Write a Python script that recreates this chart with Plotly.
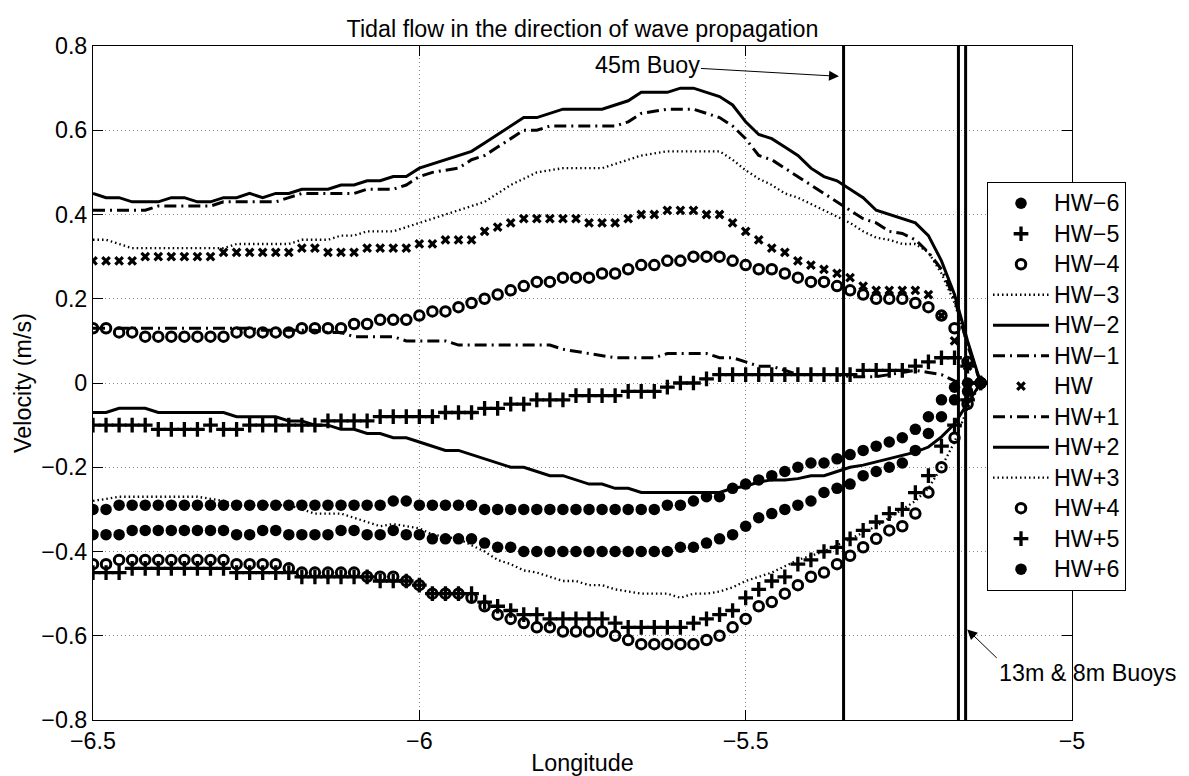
import plotly.graph_objects as go

# ---------------- data ----------------
lon = [-6.50, -6.48, -6.46, -6.44, -6.42, -6.40, -6.38, -6.36, -6.34, -6.32,
       -6.30, -6.28, -6.26, -6.24, -6.22, -6.20, -6.18, -6.16, -6.14, -6.12,
       -6.10, -6.08, -6.06, -6.04, -6.02, -6.00, -5.98, -5.96, -5.94, -5.92,
       -5.90, -5.88, -5.86, -5.84, -5.82, -5.80, -5.78, -5.76, -5.74, -5.72,
       -5.70, -5.68, -5.66, -5.64, -5.62, -5.60, -5.58, -5.56, -5.54, -5.52,
       -5.50, -5.48, -5.46, -5.44, -5.42, -5.40, -5.38, -5.36, -5.34, -5.32,
       -5.30, -5.28, -5.26, -5.24, -5.22, -5.20, -5.18, -5.16, -5.14]

hw_m6 = [-0.30, -0.30, -0.29, -0.29, -0.29, -0.29, -0.29, -0.29, -0.29, -0.29,
         -0.29, -0.29, -0.29, -0.29, -0.29, -0.29, -0.29, -0.29, -0.29, -0.29,
         -0.29, -0.29, -0.29, -0.28, -0.28, -0.29, -0.29, -0.29, -0.29, -0.29,
         -0.30, -0.30, -0.30, -0.30, -0.30, -0.30, -0.30, -0.30, -0.30, -0.30,
         -0.30, -0.30, -0.30, -0.30, -0.29, -0.29, -0.28, -0.27, -0.27, -0.25,
         -0.24, -0.23, -0.22, -0.21, -0.20, -0.19, -0.19, -0.18, -0.17, -0.16,
         -0.15, -0.14, -0.13, -0.11, -0.08, -0.04, -0.01, 0.00, 0.00]

hw_m5 = [-0.10, -0.10, -0.10, -0.10, -0.10, -0.11, -0.11, -0.11, -0.11, -0.10,
         -0.11, -0.11, -0.10, -0.10, -0.10, -0.10, -0.10, -0.10, -0.09, -0.09,
         -0.09, -0.09, -0.08, -0.08, -0.08, -0.08, -0.08, -0.07, -0.07, -0.07,
         -0.06, -0.06, -0.05, -0.05, -0.04, -0.04, -0.04, -0.03, -0.03, -0.03,
         -0.03, -0.02, -0.02, -0.02, -0.01, 0.00, 0.00, 0.01, 0.02, 0.02,
         0.02, 0.02, 0.02, 0.02, 0.02, 0.02, 0.02, 0.02, 0.02, 0.03,
         0.03, 0.03, 0.03, 0.04, 0.05, 0.06, 0.06, 0.04, 0.00]

hw_m4 = [0.13, 0.13, 0.12, 0.12, 0.11, 0.11, 0.11, 0.11, 0.11, 0.11,
         0.11, 0.12, 0.12, 0.12, 0.12, 0.12, 0.13, 0.13, 0.13, 0.13,
         0.14, 0.14, 0.15, 0.15, 0.15, 0.16, 0.17, 0.17, 0.18, 0.19,
         0.20, 0.21, 0.22, 0.23, 0.24, 0.24, 0.25, 0.25, 0.25, 0.26,
         0.26, 0.27, 0.28, 0.28, 0.29, 0.29, 0.30, 0.30, 0.30, 0.29,
         0.28, 0.27, 0.27, 0.26, 0.25, 0.24, 0.24, 0.23, 0.22, 0.21,
         0.20, 0.20, 0.20, 0.19, 0.18, 0.16, 0.13, 0.05, 0.00]

hw_m3 = [0.34, 0.34, 0.33, 0.32, 0.32, 0.32, 0.32, 0.32, 0.32, 0.32,
         0.32, 0.33, 0.33, 0.33, 0.33, 0.33, 0.34, 0.34, 0.34, 0.35,
         0.35, 0.36, 0.36, 0.36, 0.37, 0.38, 0.39, 0.40, 0.41, 0.42,
         0.43, 0.45, 0.47, 0.485, 0.50, 0.505, 0.51, 0.51, 0.51, 0.51,
         0.52, 0.53, 0.54, 0.545, 0.55, 0.55, 0.55, 0.55, 0.55, 0.53,
         0.505, 0.485, 0.47, 0.45, 0.44, 0.425, 0.41, 0.395, 0.38, 0.36,
         0.345, 0.34, 0.33, 0.33, 0.31, 0.26, 0.19, 0.09, 0.00]

hw_m2 = [0.45, 0.44, 0.44, 0.43, 0.43, 0.43, 0.44, 0.44, 0.43, 0.43,
         0.44, 0.44, 0.45, 0.44, 0.45, 0.45, 0.46, 0.46, 0.46, 0.47,
         0.47, 0.48, 0.48, 0.49, 0.49, 0.51, 0.52, 0.53, 0.54, 0.55,
         0.57, 0.59, 0.61, 0.63, 0.63, 0.64, 0.65, 0.65, 0.65, 0.65,
         0.66, 0.67, 0.69, 0.69, 0.69, 0.70, 0.70, 0.69, 0.68, 0.66,
         0.62, 0.59, 0.58, 0.56, 0.54, 0.51, 0.49, 0.48, 0.46, 0.44,
         0.41, 0.40, 0.39, 0.38, 0.35, 0.29, 0.21, 0.10, 0.00]

hw_m1 = [0.41, 0.41, 0.41, 0.41, 0.41, 0.42, 0.42, 0.42, 0.42, 0.42,
         0.43, 0.43, 0.43, 0.43, 0.43, 0.44, 0.45, 0.45, 0.45, 0.45,
         0.45, 0.46, 0.46, 0.46, 0.47, 0.49, 0.50, 0.505, 0.51, 0.53,
         0.54, 0.56, 0.58, 0.60, 0.60, 0.61, 0.61, 0.61, 0.61, 0.61,
         0.61, 0.62, 0.64, 0.645, 0.65, 0.65, 0.65, 0.64, 0.63, 0.61,
         0.58, 0.54, 0.53, 0.51, 0.49, 0.47, 0.45, 0.43, 0.41, 0.39,
         0.38, 0.36, 0.355, 0.34, 0.31, 0.27, 0.20, 0.09, 0.00]

hw_0 = [0.29, 0.29, 0.29, 0.29, 0.30, 0.30, 0.30, 0.30, 0.30, 0.30,
        0.31, 0.31, 0.31, 0.31, 0.31, 0.31, 0.32, 0.32, 0.31, 0.31,
        0.31, 0.32, 0.32, 0.32, 0.32, 0.33, 0.33, 0.34, 0.34, 0.34,
        0.36, 0.37, 0.38, 0.39, 0.39, 0.39, 0.39, 0.39, 0.38, 0.38,
        0.38, 0.39, 0.40, 0.40, 0.41, 0.41, 0.41, 0.40, 0.40, 0.38,
        0.36, 0.34, 0.32, 0.31, 0.29, 0.28, 0.27, 0.26, 0.25, 0.23,
        0.22, 0.22, 0.22, 0.22, 0.21, 0.16, 0.10, 0.04, 0.00]

hw_p1 = [0.13, 0.13, 0.13, 0.13, 0.13, 0.13, 0.13, 0.13, 0.13, 0.13,
         0.13, 0.13, 0.13, 0.125, 0.125, 0.125, 0.125, 0.125, 0.12, 0.12,
         0.11, 0.11, 0.11, 0.11, 0.10, 0.10, 0.10, 0.10, 0.09, 0.09,
         0.09, 0.09, 0.09, 0.09, 0.09, 0.09, 0.08, 0.075, 0.07, 0.065,
         0.06, 0.06, 0.06, 0.06, 0.07, 0.07, 0.07, 0.07, 0.06, 0.06,
         0.05, 0.04, 0.04, 0.03, 0.02, 0.02, 0.02, 0.02, 0.015, 0.015,
         0.015, 0.02, 0.025, 0.03, 0.025, 0.02, 0.005, 0.00, 0.00]

hw_p2 = [-0.07, -0.07, -0.06, -0.06, -0.06, -0.07, -0.07, -0.07, -0.07, -0.07,
         -0.07, -0.08, -0.08, -0.08, -0.08, -0.09, -0.09, -0.10, -0.10, -0.11,
         -0.11, -0.12, -0.12, -0.13, -0.13, -0.14, -0.15, -0.16, -0.16, -0.17,
         -0.18, -0.19, -0.20, -0.20, -0.21, -0.22, -0.22, -0.23, -0.24, -0.24,
         -0.25, -0.25, -0.26, -0.26, -0.26, -0.26, -0.26, -0.26, -0.26, -0.25,
         -0.245, -0.235, -0.23, -0.23, -0.227, -0.22, -0.22, -0.21, -0.20, -0.195,
         -0.187, -0.18, -0.172, -0.164, -0.152, -0.128, -0.097, -0.05, 0.00]

hw_p3 = [-0.28, -0.275, -0.27, -0.27, -0.27, -0.27, -0.27, -0.27, -0.27, -0.275,
         -0.28, -0.29, -0.29, -0.29, -0.29, -0.29, -0.30, -0.31, -0.31, -0.31,
         -0.32, -0.33, -0.34, -0.335, -0.34, -0.345, -0.36, -0.365, -0.37, -0.385,
         -0.40, -0.42, -0.43, -0.445, -0.45, -0.46, -0.47, -0.47, -0.48, -0.48,
         -0.49, -0.495, -0.50, -0.50, -0.50, -0.51, -0.50, -0.50, -0.495, -0.485,
         -0.47, -0.46, -0.45, -0.435, -0.42, -0.41, -0.40, -0.385, -0.37, -0.355,
         -0.34, -0.32, -0.30, -0.28, -0.25, -0.20, -0.14, -0.06, 0.00]

hw_p4 = [-0.43, -0.43, -0.42, -0.42, -0.42, -0.42, -0.42, -0.42, -0.42, -0.42,
         -0.42, -0.43, -0.43, -0.43, -0.43, -0.44, -0.45, -0.45, -0.45, -0.45,
         -0.45, -0.46, -0.46, -0.46, -0.47, -0.48, -0.50, -0.50, -0.50, -0.51,
         -0.53, -0.55, -0.56, -0.57, -0.58, -0.58, -0.59, -0.59, -0.59, -0.59,
         -0.60, -0.61, -0.62, -0.62, -0.62, -0.62, -0.62, -0.61, -0.60, -0.58,
         -0.56, -0.53, -0.52, -0.50, -0.48, -0.46, -0.45, -0.43, -0.41, -0.39,
         -0.37, -0.35, -0.34, -0.31, -0.26, -0.20, -0.13, -0.05, 0.00]

hw_p5 = [-0.45, -0.45, -0.45, -0.44, -0.44, -0.44, -0.44, -0.44, -0.44, -0.44,
         -0.44, -0.45, -0.45, -0.45, -0.45, -0.45, -0.46, -0.46, -0.46, -0.46,
         -0.46, -0.46, -0.47, -0.47, -0.47, -0.48, -0.50, -0.50, -0.50, -0.50,
         -0.52, -0.53, -0.54, -0.55, -0.55, -0.56, -0.56, -0.56, -0.56, -0.56,
         -0.57, -0.58, -0.58, -0.58, -0.58, -0.58, -0.57, -0.56, -0.55, -0.54,
         -0.51, -0.49, -0.47, -0.46, -0.43, -0.42, -0.40, -0.39, -0.37, -0.35,
         -0.33, -0.31, -0.30, -0.26, -0.22, -0.15, -0.10, -0.04, 0.00]

hw_p6 = [-0.36, -0.36, -0.36, -0.35, -0.35, -0.35, -0.35, -0.35, -0.35, -0.35,
         -0.35, -0.36, -0.36, -0.35, -0.35, -0.36, -0.36, -0.36, -0.36, -0.35,
         -0.35, -0.36, -0.36, -0.35, -0.36, -0.36, -0.37, -0.37, -0.37, -0.37,
         -0.38, -0.39, -0.39, -0.40, -0.40, -0.40, -0.40, -0.40, -0.40, -0.40,
         -0.40, -0.40, -0.40, -0.40, -0.40, -0.39, -0.39, -0.38, -0.37, -0.36,
         -0.34, -0.32, -0.31, -0.30, -0.29, -0.28, -0.26, -0.25, -0.24, -0.22,
         -0.21, -0.20, -0.19, -0.16, -0.12, -0.08, -0.04, -0.02, 0.00]

series_names = ["HW\u22126", "HW\u22125", "HW\u22124", "HW\u22123", "HW\u22122", "HW\u22121",
                "HW", "HW+1", "HW+2", "HW+3", "HW+4", "HW+5", "HW+6"]
series_values = [hw_m6, hw_m5, hw_m4, hw_m3, hw_m2, hw_m1, hw_0,
                 hw_p1, hw_p2, hw_p3, hw_p4, hw_p5, hw_p6]

buoy_lons = [-5.350, -5.174, -5.163]

x_ticks = [-6.5, -6, -5.5, -5]
y_ticks = [-0.8, -0.6, -0.4, -0.2, 0, 0.2, 0.4, 0.6, 0.8]

# ---------------- styles ----------------
K = "black"
dot_marker = dict(mode="markers", marker=dict(symbol="circle", size=11.5, color=K))
plus_marker = dict(mode="markers", marker=dict(symbol="cross-thin-open", size=10.5,
                                                color=K, line=dict(color=K, width=3.3)))
circ_marker = dict(mode="markers", marker=dict(symbol="circle-open", size=9.5,
                                                color=K, line=dict(color=K, width=3)))
x_marker = dict(mode="markers", marker=dict(symbol="x-thin-open", size=7.5,
                                             color=K, line=dict(color=K, width=3.2)))
dotted_line = dict(mode="lines", line=dict(color=K, width=2.3, dash="1.5px,3px"))
solid_line = dict(mode="lines", line=dict(color=K, width=3))
dashdot_line = dict(mode="lines", line=dict(color=K, width=3, dash="12px,5px,2px,5px"))

styles = [dot_marker, plus_marker, circ_marker, dotted_line, solid_line, dashdot_line,
          x_marker, dashdot_line, solid_line, dotted_line, circ_marker, plus_marker,
          dot_marker]

FONT = "Liberation Sans, Arial, Helvetica, sans-serif"
FS = 23.3
LEG_FS = 21.15   # sets legend row pitch (~30.5 px); labels themselves drawn at FS

fig = go.Figure()
for name, vals, st in zip(series_names, series_values, styles):
    fig.add_trace(go.Scatter(x=lon, y=vals,
                             name=f"<span style='font-size:{FS}px'>{name}</span>", **st))

for bx in buoy_lons:
    fig.add_vline(x=bx, line=dict(color=K, width=3))

W, H = 1189, 776
L, R, T, B = 93, 117, 46, 56

axis_common = dict(
    showline=True, linecolor=K, linewidth=1, mirror="ticks",
    ticks="inside", ticklen=10, tickwidth=1, tickcolor=K,
    showgrid=True, gridcolor="#8a8a8a", griddash="1px,3px", gridwidth=1,
    zeroline=False, tickfont=dict(family=FONT, size=FS, color=K),
)

fig.update_layout(
    width=W, height=H,
    margin=dict(l=L, r=R, t=T, b=B, autoexpand=False),
    paper_bgcolor="white", plot_bgcolor="white",
    font=dict(family=FONT, size=FS, color=K),
    title=dict(text="Tidal flow in the direction of wave propagation",
               x=0.5, xref="paper", xanchor="center",
               y=1 - 29 / H, yref="container", yanchor="middle",
               font=dict(family=FONT, size=FS, color=K)),
    xaxis=dict(range=[-6.5, -5], tickvals=x_ticks, title=dict(text="Longitude", standoff=3,
               font=dict(family=FONT, size=FS, color=K)), **axis_common),
    yaxis=dict(range=[-0.8, 0.8], tickvals=y_ticks, title=dict(text="Velocity (m/s)", standoff=3,
               font=dict(family=FONT, size=FS, color=K)), **axis_common),
    legend=dict(x=(987 - L) / (W - L - R), y=(H - B - 182) / (H - T - B),
                xanchor="left", yanchor="top", bgcolor="white",
                bordercolor=K, borderwidth=1, font=dict(family=FONT, size=LEG_FS, color=K),
                itemwidth=56, tracegroupgap=0),
    showlegend=True,
)

fig.add_annotation(x=-5.357, y=0.728, xref="x", yref="y", text="45m Buoy",
                   showarrow=True, ax=-192, ay=-11, arrowhead=2, arrowsize=2,
                   arrowwidth=1, arrowcolor=K, font=dict(family=FONT, size=FS, color=K))
fig.add_annotation(x=-5.1605, y=-0.585, xref="x", yref="y", text="",
                   showarrow=True, ax=31, ay=30, arrowhead=2, arrowsize=2,
                   arrowwidth=1, arrowcolor=K)
fig.add_annotation(x=(1087 - L) / (W - L - R), y=(H - B - 673) / (H - T - B),
                   xref="paper", yref="paper", text="13m & 8m Buoys", showarrow=False,
                   xanchor="center", yanchor="middle",
                   font=dict(family=FONT, size=FS, color=K))

fig.write_html("out.html")
